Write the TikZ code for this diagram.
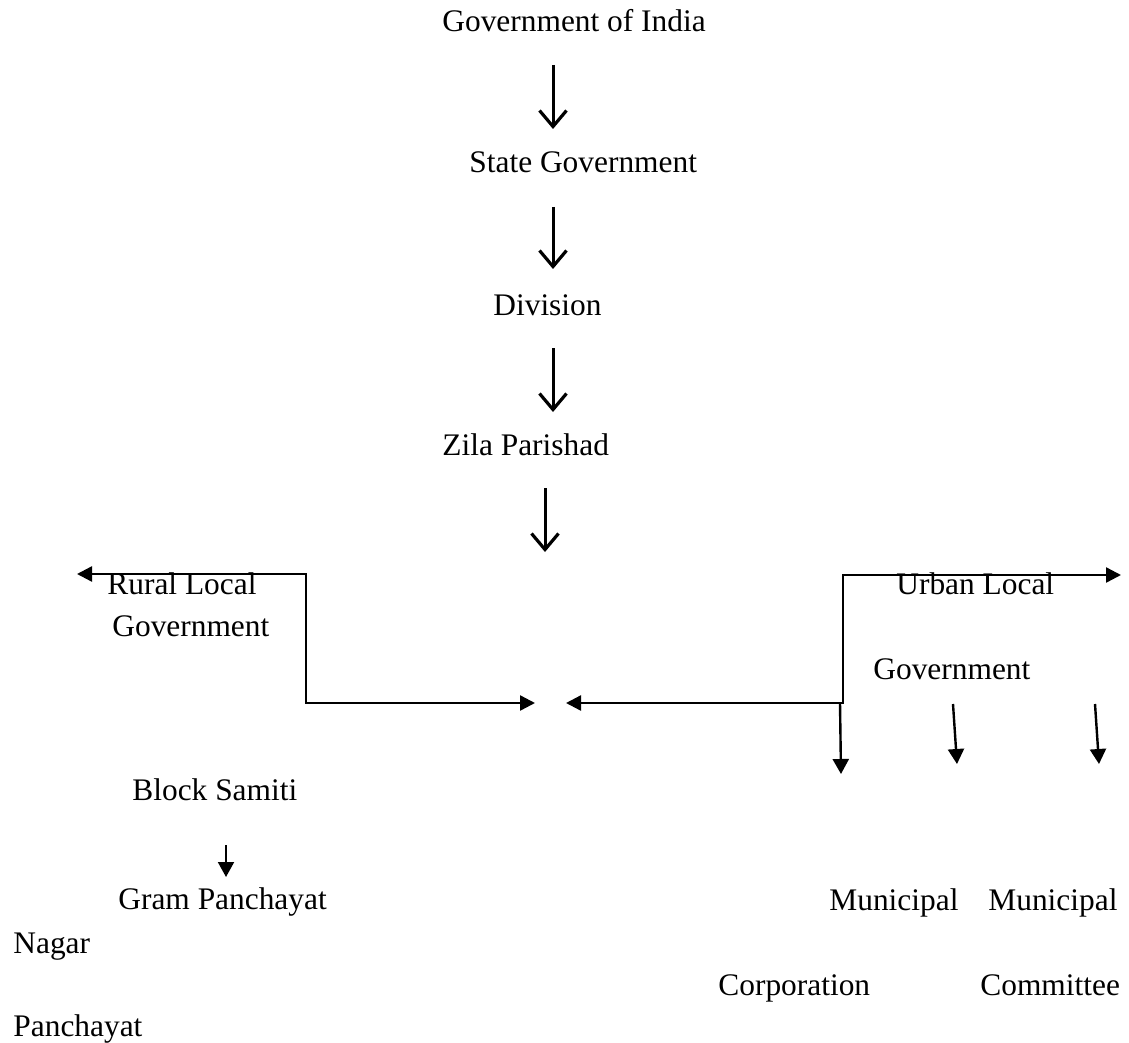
\documentclass[tikz,border=0pt]{standalone}
\usepackage{fontspec}
\setmainfont{Liberation Serif}
\usetikzlibrary{arrows.meta}
\begin{document}
\begin{tikzpicture}[x=0.5pt,y=-0.5pt,
  lbl/.style={anchor=base west, inner sep=0pt, font=\fontsize{15.7pt}{18pt}\selectfont},
  glyph/.style={line width=1.5pt, -{Straight Barb[length=8pt,width=13.5pt,line width=1.6pt]}},
  conn/.style={line width=1.2pt},
  down/.style={line width=1.2pt, -{Triangle[length=7.5pt,width=8pt]}},
]
\useasboundingbox (0,0) rectangle (1129,1043);

% labels
\node[lbl] (gov)   at (442,32)  {Government of India};
\node[lbl] (state) at (469,173) {State Government};
\node[lbl] (div)   at (493,315) {Division};
\node[lbl] (zila)  at (442,455) {Zila Parishad};
\node[lbl] (rural) at (107,594) {Rural Local};
\node[lbl] (rgov)  at (112,636) {Government};
\node[lbl] (urban) at (896,594) {Urban Local};
\node[lbl] (ugov)  at (873,679) {Government};
\node[lbl] (block) at (132,800) {Block Samiti};
\node[lbl] (gram)  at (118,909) {Gram Panchayat};
\node[lbl] (nagar) at (13,953)  {Nagar};
\node[lbl] (panch) at (13,1036) {Panchayat};
\node[lbl] (mun1)  at (829,910) {Municipal};
\node[lbl] (mun2)  at (988,910) {Municipal};
\node[lbl] (corp)  at (718,995) {Corporation};
\node[lbl] (comm)  at (980,995) {Committee};

% arrow end points
\coordinate (a1s) at (553,65);  \coordinate (a1e) at (553,129);
\coordinate (a2s) at (553,207); \coordinate (a2e) at (553,269);
\coordinate (a3s) at (553,348); \coordinate (a3e) at (553,412);
\coordinate (a4s) at (545,488); \coordinate (a4e) at (545,552);

\coordinate (ltip) at (77,574);  \coordinate (lc1) at (306,574);
\coordinate (lc2)  at (306,703); \coordinate (lend) at (535,703);
\coordinate (rtip) at (566,703); \coordinate (rc1) at (843,703);
\coordinate (rc2)  at (843,575); \coordinate (rend) at (1121,575);

\coordinate (d1s) at (840,703);  \coordinate (d1e) at (841,774);
\coordinate (d2s) at (953,704);  \coordinate (d2e) at (957,764);
\coordinate (d3s) at (1095,704); \coordinate (d3e) at (1099,764);
\coordinate (bs)  at (226,845);  \coordinate (be)  at (226,877);

% glyph-like arrows
\draw[glyph] (a1s) -- (a1e);
\draw[glyph] (a2s) -- (a2e);
\draw[glyph] (a3s) -- (a3e);
\draw[glyph] (a4s) -- (a4e);

% brackets
\draw[conn, {Triangle[length=7.5pt,width=7.5pt]}-{Triangle[length=7.5pt,width=7.5pt]}]
  (ltip) -- (lc1) -- (lc2) -- (lend);
\draw[conn, {Triangle[length=7.5pt,width=7.5pt]}-{Triangle[length=7.5pt,width=7.5pt]}]
  (rtip) -- (rc1) -- (rc2) -- (rend);

% down arrows
\draw[down] (d1s) -- (d1e);
\draw[down] (d2s) -- (d2e);
\draw[down] (d3s) -- (d3e);
\draw[down, line width=1pt] (bs) -- (be);
\end{tikzpicture}
\end{document}
